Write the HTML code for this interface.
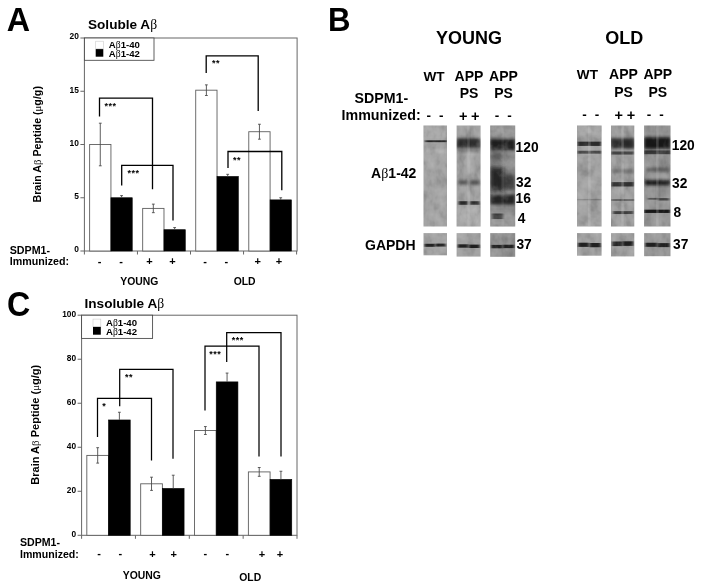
<!DOCTYPE html>
<html><head><meta charset="utf-8"><title>Figure</title>
<style>html,body{margin:0;padding:0;background:#fff;}svg{display:block;filter:blur(0.35px);}</style>
</head><body>
<svg width="701" height="586" viewBox="0 0 701 586" font-family='"Liberation Sans", Arial, sans-serif'>
<rect width="701" height="586" fill="#fff"/>
<text x="0" y="0" font-size="33.5" text-anchor="start" font-weight="bold" fill="#000" transform="translate(6.8 30.5) scale(0.965 1.01)">A</text>
<text x="0" y="0" font-size="33.5" text-anchor="start" font-weight="bold" fill="#000" transform="translate(327.9 30.5) scale(0.93 1.01)">B</text>
<text x="0" y="0" font-size="35.8" text-anchor="start" font-weight="bold" fill="#000" transform="translate(7.1 316.2) scale(0.9 1.0)">C</text>
<rect x="84.40" y="38.00" width="212.70" height="213.00" fill="none" stroke="#666" stroke-width="1" />
<line x1="80.4" y1="251.0" x2="84.4" y2="251.0" stroke="#666" stroke-width="1" />
<text x="78.9" y="252.3" font-size="8.4" text-anchor="end" font-weight="bold" fill="#000" >0</text>
<line x1="80.4" y1="197.75" x2="84.4" y2="197.75" stroke="#666" stroke-width="1" />
<text x="78.9" y="199.05" font-size="8.4" text-anchor="end" font-weight="bold" fill="#000" >5</text>
<line x1="80.4" y1="144.5" x2="84.4" y2="144.5" stroke="#666" stroke-width="1" />
<text x="78.9" y="145.8" font-size="8.4" text-anchor="end" font-weight="bold" fill="#000" >10</text>
<line x1="80.4" y1="91.25" x2="84.4" y2="91.25" stroke="#666" stroke-width="1" />
<text x="78.9" y="92.55" font-size="8.4" text-anchor="end" font-weight="bold" fill="#000" >15</text>
<line x1="80.4" y1="38.0" x2="84.4" y2="38.0" stroke="#666" stroke-width="1" />
<text x="78.9" y="39.3" font-size="8.4" text-anchor="end" font-weight="bold" fill="#000" >20</text>
<line x1="84.4" y1="251.0" x2="84.4" y2="254.5" stroke="#666" stroke-width="1" />
<line x1="137.45000000000002" y1="251.0" x2="137.45000000000002" y2="254.5" stroke="#666" stroke-width="1" />
<line x1="190.5" y1="251.0" x2="190.5" y2="254.5" stroke="#666" stroke-width="1" />
<line x1="243.55" y1="251.0" x2="243.55" y2="254.5" stroke="#666" stroke-width="1" />
<line x1="296.6" y1="251.0" x2="296.6" y2="254.5" stroke="#666" stroke-width="1" />
<rect x="89.63" y="144.50" width="21.30" height="106.50" fill="#fff" stroke="#5e5e5e" stroke-width="0.9" />
<line x1="100.27500000000002" y1="123.19999999999999" x2="100.27500000000002" y2="165.8" stroke="#4c4c4c" stroke-width="0.9" />
<line x1="98.87500000000001" y1="123.19999999999999" x2="101.67500000000003" y2="123.19999999999999" stroke="#4c4c4c" stroke-width="0.9" />
<line x1="98.87500000000001" y1="165.8" x2="101.67500000000003" y2="165.8" stroke="#4c4c4c" stroke-width="0.9" />
<rect x="110.93" y="197.75" width="21.30" height="53.25" fill="#000" stroke="#000" stroke-width="0.6" />
<line x1="121.57500000000002" y1="195.62" x2="121.57500000000002" y2="197.75" stroke="#4c4c4c" stroke-width="0.9" />
<line x1="120.17500000000001" y1="195.62" x2="122.97500000000002" y2="195.62" stroke="#4c4c4c" stroke-width="0.9" />
<rect x="142.68" y="208.40" width="21.30" height="42.60" fill="#fff" stroke="#5e5e5e" stroke-width="0.9" />
<line x1="153.32500000000002" y1="204.14" x2="153.32500000000002" y2="212.66" stroke="#4c4c4c" stroke-width="0.9" />
<line x1="151.925" y1="204.14" x2="154.72500000000002" y2="204.14" stroke="#4c4c4c" stroke-width="0.9" />
<line x1="151.925" y1="212.66" x2="154.72500000000002" y2="212.66" stroke="#4c4c4c" stroke-width="0.9" />
<rect x="163.98" y="229.70" width="21.30" height="21.30" fill="#000" stroke="#000" stroke-width="0.6" />
<line x1="174.62500000000003" y1="227.57" x2="174.62500000000003" y2="229.7" stroke="#4c4c4c" stroke-width="0.9" />
<line x1="173.22500000000002" y1="227.57" x2="176.02500000000003" y2="227.57" stroke="#4c4c4c" stroke-width="0.9" />
<rect x="195.72" y="90.19" width="21.30" height="160.81" fill="#fff" stroke="#5e5e5e" stroke-width="0.9" />
<line x1="206.375" y1="84.85999999999999" x2="206.375" y2="95.50999999999999" stroke="#4c4c4c" stroke-width="0.9" />
<line x1="204.975" y1="84.85999999999999" x2="207.775" y2="84.85999999999999" stroke="#4c4c4c" stroke-width="0.9" />
<line x1="204.975" y1="95.50999999999999" x2="207.775" y2="95.50999999999999" stroke="#4c4c4c" stroke-width="0.9" />
<rect x="217.03" y="176.45" width="21.30" height="74.55" fill="#000" stroke="#000" stroke-width="0.6" />
<line x1="227.675" y1="174.32" x2="227.675" y2="176.45" stroke="#4c4c4c" stroke-width="0.9" />
<line x1="226.275" y1="174.32" x2="229.07500000000002" y2="174.32" stroke="#4c4c4c" stroke-width="0.9" />
<rect x="248.78" y="131.72" width="21.30" height="119.28" fill="#fff" stroke="#5e5e5e" stroke-width="0.9" />
<line x1="259.425" y1="124.26500000000001" x2="259.425" y2="139.175" stroke="#4c4c4c" stroke-width="0.9" />
<line x1="258.02500000000003" y1="124.26500000000001" x2="260.825" y2="124.26500000000001" stroke="#4c4c4c" stroke-width="0.9" />
<line x1="258.02500000000003" y1="139.175" x2="260.825" y2="139.175" stroke="#4c4c4c" stroke-width="0.9" />
<rect x="270.08" y="199.88" width="21.30" height="51.12" fill="#000" stroke="#000" stroke-width="0.6" />
<line x1="280.725" y1="197.75" x2="280.725" y2="199.88" stroke="#4c4c4c" stroke-width="0.9" />
<line x1="279.32500000000005" y1="197.75" x2="282.125" y2="197.75" stroke="#4c4c4c" stroke-width="0.9" />
<rect x="84.40" y="38.00" width="69.60" height="22.30" fill="#fff" stroke="#444" stroke-width="0.85" />
<rect x="95.70" y="41.20" width="7.60" height="7.60" fill="#fff" stroke="#ccc" stroke-width="0.6" />
<rect x="95.70" y="49.10" width="7.60" height="7.60" fill="#000" stroke="none" stroke-width="1" />
<text x="108.8" y="47.6" font-size="9.6" text-anchor="start" font-weight="bold" fill="#000" >A<tspan font-family='"Liberation Serif", "DejaVu Serif", serif' font-weight="normal">β</tspan>1-40</text>
<text x="108.8" y="57.4" font-size="9.6" text-anchor="start" font-weight="bold" fill="#000" >A<tspan font-family='"Liberation Serif", "DejaVu Serif", serif' font-weight="normal">β</tspan>1-42</text>
<path d="M99.5 116.6 V98.2 H152.5 V189.2" fill="none" stroke="#000" stroke-width="1.3" stroke-linejoin="miter"/>
<text x="104.4" y="108.6" font-size="9" text-anchor="start" font-weight="bold" fill="#000" letter-spacing="0.5">***</text>
<path d="M121.7 185.6 V165.3 H173 V220.6" fill="none" stroke="#000" stroke-width="1.3" stroke-linejoin="miter"/>
<text x="127.5" y="176" font-size="9" text-anchor="start" font-weight="bold" fill="#000" letter-spacing="0.5">***</text>
<path d="M206.2 73 V55.9 H258.2 V111" fill="none" stroke="#000" stroke-width="1.3" stroke-linejoin="miter"/>
<text x="212" y="66" font-size="9" text-anchor="start" font-weight="bold" fill="#000" letter-spacing="0.5">**</text>
<path d="M228 168 V151.5 H281.8 V190.2" fill="none" stroke="#000" stroke-width="1.3" stroke-linejoin="miter"/>
<text x="233" y="162.8" font-size="9" text-anchor="start" font-weight="bold" fill="#000" letter-spacing="0.5">**</text>
<text x="88" y="29.0" font-size="13.6" text-anchor="start" font-weight="bold" fill="#000" >Soluble A<tspan font-family='"Liberation Serif", "DejaVu Serif", serif' font-weight="normal">β</tspan></text>
<text x="0" y="0" font-size="10.7" text-anchor="middle" font-weight="bold" fill="#000" transform="translate(40.8 144.3) rotate(-90)">Brain A<tspan font-family='"Liberation Serif", "DejaVu Serif", serif' font-weight="normal">β</tspan> Peptide (<tspan font-family='"Liberation Serif", "DejaVu Serif", serif' font-weight="normal">μ</tspan>g/g)</text>
<text x="9.7" y="254.2" font-size="10.7" text-anchor="start" font-weight="bold" fill="#000" >SDPM1-</text>
<text x="9.7" y="265" font-size="10.7" text-anchor="start" font-weight="bold" fill="#000" >Immunized:</text>
<text x="99.5" y="264.5" font-size="11" text-anchor="middle" font-weight="bold" fill="#000" >-</text>
<text x="121" y="264.5" font-size="11" text-anchor="middle" font-weight="bold" fill="#000" >-</text>
<text x="149.5" y="265.4" font-size="11" text-anchor="middle" font-weight="bold" fill="#000" >+</text>
<text x="172.5" y="265.4" font-size="11" text-anchor="middle" font-weight="bold" fill="#000" >+</text>
<text x="205" y="264.5" font-size="11" text-anchor="middle" font-weight="bold" fill="#000" >-</text>
<text x="226.3" y="264.5" font-size="11" text-anchor="middle" font-weight="bold" fill="#000" >-</text>
<text x="257.6" y="265.4" font-size="11" text-anchor="middle" font-weight="bold" fill="#000" >+</text>
<text x="279" y="265.4" font-size="11" text-anchor="middle" font-weight="bold" fill="#000" >+</text>
<text x="139.3" y="285" font-size="10.4" text-anchor="middle" font-weight="bold" fill="#000" >YOUNG</text>
<text x="244.6" y="285" font-size="10.4" text-anchor="middle" font-weight="bold" fill="#000" >OLD</text>
<rect x="81.60" y="315.20" width="215.40" height="220.10" fill="none" stroke="#666" stroke-width="1" />
<line x1="77.6" y1="535.3" x2="81.6" y2="535.3" stroke="#666" stroke-width="1" />
<text x="76.1" y="537.1999999999999" font-size="8.3" text-anchor="end" font-weight="bold" fill="#000" >0</text>
<line x1="77.6" y1="491.28" x2="81.6" y2="491.28" stroke="#666" stroke-width="1" />
<text x="76.1" y="493.17999999999995" font-size="8.3" text-anchor="end" font-weight="bold" fill="#000" >20</text>
<line x1="77.6" y1="447.26" x2="81.6" y2="447.26" stroke="#666" stroke-width="1" />
<text x="76.1" y="449.15999999999997" font-size="8.3" text-anchor="end" font-weight="bold" fill="#000" >40</text>
<line x1="77.6" y1="403.24" x2="81.6" y2="403.24" stroke="#666" stroke-width="1" />
<text x="76.1" y="405.14" font-size="8.3" text-anchor="end" font-weight="bold" fill="#000" >60</text>
<line x1="77.6" y1="359.21999999999997" x2="81.6" y2="359.21999999999997" stroke="#666" stroke-width="1" />
<text x="76.1" y="361.11999999999995" font-size="8.3" text-anchor="end" font-weight="bold" fill="#000" >80</text>
<line x1="77.6" y1="315.2" x2="81.6" y2="315.2" stroke="#666" stroke-width="1" />
<text x="76.1" y="317.09999999999997" font-size="8.3" text-anchor="end" font-weight="bold" fill="#000" >100</text>
<line x1="81.6" y1="535.3" x2="81.6" y2="538.8" stroke="#666" stroke-width="1" />
<line x1="135.45" y1="535.3" x2="135.45" y2="538.8" stroke="#666" stroke-width="1" />
<line x1="189.3" y1="535.3" x2="189.3" y2="538.8" stroke="#666" stroke-width="1" />
<line x1="243.15" y1="535.3" x2="243.15" y2="538.8" stroke="#666" stroke-width="1" />
<line x1="297.0" y1="535.3" x2="297.0" y2="538.8" stroke="#666" stroke-width="1" />
<rect x="86.82" y="455.40" width="21.70" height="79.90" fill="#fff" stroke="#5e5e5e" stroke-width="0.9" />
<line x1="97.67499999999998" y1="447.7002" x2="97.67499999999998" y2="463.1072" stroke="#4c4c4c" stroke-width="0.9" />
<line x1="96.27499999999998" y1="447.7002" x2="99.07499999999999" y2="447.7002" stroke="#4c4c4c" stroke-width="0.9" />
<line x1="96.27499999999998" y1="463.1072" x2="99.07499999999999" y2="463.1072" stroke="#4c4c4c" stroke-width="0.9" />
<rect x="108.52" y="419.97" width="21.70" height="115.33" fill="#000" stroke="#000" stroke-width="0.6" />
<line x1="119.37499999999999" y1="412.2641" x2="119.37499999999999" y2="419.96759999999995" stroke="#4c4c4c" stroke-width="0.9" />
<line x1="117.97499999999998" y1="412.2641" x2="120.77499999999999" y2="412.2641" stroke="#4c4c4c" stroke-width="0.9" />
<rect x="140.68" y="483.80" width="21.70" height="51.50" fill="#fff" stroke="#5e5e5e" stroke-width="0.9" />
<line x1="151.525" y1="477.19359999999995" x2="151.525" y2="490.39959999999996" stroke="#4c4c4c" stroke-width="0.9" />
<line x1="150.125" y1="477.19359999999995" x2="152.925" y2="477.19359999999995" stroke="#4c4c4c" stroke-width="0.9" />
<line x1="150.125" y1="490.39959999999996" x2="152.925" y2="490.39959999999996" stroke="#4c4c4c" stroke-width="0.9" />
<rect x="162.38" y="488.42" width="21.70" height="46.88" fill="#000" stroke="#000" stroke-width="0.6" />
<line x1="173.225" y1="475.2127" x2="173.225" y2="488.41869999999994" stroke="#4c4c4c" stroke-width="0.9" />
<line x1="171.825" y1="475.2127" x2="174.625" y2="475.2127" stroke="#4c4c4c" stroke-width="0.9" />
<rect x="194.53" y="430.53" width="21.70" height="104.77" fill="#fff" stroke="#5e5e5e" stroke-width="0.9" />
<line x1="205.375" y1="426.57059999999996" x2="205.375" y2="434.4942" stroke="#4c4c4c" stroke-width="0.9" />
<line x1="203.975" y1="426.57059999999996" x2="206.775" y2="426.57059999999996" stroke="#4c4c4c" stroke-width="0.9" />
<line x1="203.975" y1="434.4942" x2="206.775" y2="434.4942" stroke="#4c4c4c" stroke-width="0.9" />
<rect x="216.22" y="381.89" width="21.70" height="153.41" fill="#000" stroke="#000" stroke-width="0.6" />
<line x1="227.075" y1="373.08629999999994" x2="227.075" y2="381.89029999999997" stroke="#4c4c4c" stroke-width="0.9" />
<line x1="225.67499999999998" y1="373.08629999999994" x2="228.475" y2="373.08629999999994" stroke="#4c4c4c" stroke-width="0.9" />
<rect x="248.38" y="471.91" width="21.70" height="63.39" fill="#fff" stroke="#5e5e5e" stroke-width="0.9" />
<line x1="259.225" y1="467.50919999999996" x2="259.225" y2="476.31319999999994" stroke="#4c4c4c" stroke-width="0.9" />
<line x1="257.82500000000005" y1="467.50919999999996" x2="260.625" y2="467.50919999999996" stroke="#4c4c4c" stroke-width="0.9" />
<line x1="257.82500000000005" y1="476.31319999999994" x2="260.625" y2="476.31319999999994" stroke="#4c4c4c" stroke-width="0.9" />
<rect x="270.07" y="479.39" width="21.70" height="55.91" fill="#000" stroke="#000" stroke-width="0.6" />
<line x1="280.925" y1="471.2509" x2="280.925" y2="479.39459999999997" stroke="#4c4c4c" stroke-width="0.9" />
<line x1="279.52500000000003" y1="471.2509" x2="282.325" y2="471.2509" stroke="#4c4c4c" stroke-width="0.9" />
<rect x="81.60" y="315.20" width="71.00" height="23.20" fill="#fff" stroke="#444" stroke-width="0.85" />
<rect x="93.00" y="319.10" width="7.80" height="7.80" fill="#fff" stroke="#ccc" stroke-width="0.6" />
<rect x="93.00" y="326.90" width="7.80" height="7.80" fill="#000" stroke="none" stroke-width="1" />
<text x="106" y="325.7" font-size="9.6" text-anchor="start" font-weight="bold" fill="#000" >A<tspan font-family='"Liberation Serif", "DejaVu Serif", serif' font-weight="normal">β</tspan>1-40</text>
<text x="106" y="335" font-size="9.6" text-anchor="start" font-weight="bold" fill="#000" >A<tspan font-family='"Liberation Serif", "DejaVu Serif", serif' font-weight="normal">β</tspan>1-42</text>
<path d="M97.5 437 V398.3 H151.5 V460.5" fill="none" stroke="#000" stroke-width="1.25" stroke-linejoin="miter"/>
<text x="102.3" y="409.3" font-size="9" text-anchor="start" font-weight="bold" fill="#000" letter-spacing="0.5">*</text>
<path d="M119.7 406.2 V369.3 H173 V458.7" fill="none" stroke="#000" stroke-width="1.25" stroke-linejoin="miter"/>
<text x="125" y="380" font-size="9" text-anchor="start" font-weight="bold" fill="#000" letter-spacing="0.5">**</text>
<path d="M205 410.5 V346 H259 V456.6" fill="none" stroke="#000" stroke-width="1.25" stroke-linejoin="miter"/>
<text x="209.3" y="357" font-size="9" text-anchor="start" font-weight="bold" fill="#000" letter-spacing="0.5">***</text>
<path d="M226.7 362 V332.5 H281 V456.6" fill="none" stroke="#000" stroke-width="1.25" stroke-linejoin="miter"/>
<text x="231.8" y="342.5" font-size="9" text-anchor="start" font-weight="bold" fill="#000" letter-spacing="0.5">***</text>
<text x="84.5" y="307.9" font-size="13.6" text-anchor="start" font-weight="bold" fill="#000" >Insoluble A<tspan font-family='"Liberation Serif", "DejaVu Serif", serif' font-weight="normal">β</tspan></text>
<text x="0" y="0" font-size="11.0" text-anchor="middle" font-weight="bold" fill="#000" transform="translate(38.5 424.7) rotate(-90)">Brain A<tspan font-family='"Liberation Serif", "DejaVu Serif", serif' font-weight="normal">β</tspan> Peptide (<tspan font-family='"Liberation Serif", "DejaVu Serif", serif' font-weight="normal">μ</tspan>g/g)</text>
<text x="20" y="545.8" font-size="10.6" text-anchor="start" font-weight="bold" fill="#000" >SDPM1-</text>
<text x="20" y="557.5" font-size="10.6" text-anchor="start" font-weight="bold" fill="#000" >Immunized:</text>
<text x="99" y="556.6" font-size="11" text-anchor="middle" font-weight="bold" fill="#000" >-</text>
<text x="120.4" y="556.6" font-size="11" text-anchor="middle" font-weight="bold" fill="#000" >-</text>
<text x="152.5" y="557.5" font-size="11" text-anchor="middle" font-weight="bold" fill="#000" >+</text>
<text x="173.6" y="557.5" font-size="11" text-anchor="middle" font-weight="bold" fill="#000" >+</text>
<text x="205.4" y="556.6" font-size="11" text-anchor="middle" font-weight="bold" fill="#000" >-</text>
<text x="227.3" y="556.6" font-size="11" text-anchor="middle" font-weight="bold" fill="#000" >-</text>
<text x="262" y="557.5" font-size="11" text-anchor="middle" font-weight="bold" fill="#000" >+</text>
<text x="280" y="557.5" font-size="11" text-anchor="middle" font-weight="bold" fill="#000" >+</text>
<text x="141.8" y="578.6" font-size="10.4" text-anchor="middle" font-weight="bold" fill="#000" >YOUNG</text>
<text x="250.2" y="580.5" font-size="10.4" text-anchor="middle" font-weight="bold" fill="#000" >OLD</text>
<text x="0" y="0" font-size="18" text-anchor="middle" font-weight="bold" fill="#000" transform="translate(469 44.1) scale(1 1.065)">YOUNG</text>
<text x="0" y="0" font-size="18" text-anchor="middle" font-weight="bold" fill="#000" transform="translate(624.3 44.2) scale(1 1.07)">OLD</text>
<text x="434" y="80.7" font-size="13.6" text-anchor="middle" font-weight="bold" fill="#000" >WT</text>
<text x="469" y="80.7" font-size="14" text-anchor="middle" font-weight="bold" fill="#000" >APP</text>
<text x="469" y="98.3" font-size="14" text-anchor="middle" font-weight="bold" fill="#000" >PS</text>
<text x="503.5" y="80.7" font-size="14" text-anchor="middle" font-weight="bold" fill="#000" >APP</text>
<text x="503.5" y="98.3" font-size="14" text-anchor="middle" font-weight="bold" fill="#000" >PS</text>
<text x="587.4" y="79.3" font-size="13.6" text-anchor="middle" font-weight="bold" fill="#000" >WT</text>
<text x="623.5" y="79.3" font-size="14" text-anchor="middle" font-weight="bold" fill="#000" >APP</text>
<text x="623.5" y="96.89999999999999" font-size="14" text-anchor="middle" font-weight="bold" fill="#000" >PS</text>
<text x="657.8" y="79.3" font-size="14" text-anchor="middle" font-weight="bold" fill="#000" >APP</text>
<text x="657.8" y="96.89999999999999" font-size="14" text-anchor="middle" font-weight="bold" fill="#000" >PS</text>
<text x="354.6" y="102.6" font-size="14.2" text-anchor="start" font-weight="bold" fill="#000" >SDPM1-</text>
<text x="341.5" y="120.4" font-size="14.25" text-anchor="start" font-weight="bold" fill="#000" >Immunized:</text>
<text x="428.7" y="120.3" font-size="13.5" text-anchor="middle" font-weight="bold" fill="#000" >-</text>
<text x="441.3" y="120.3" font-size="13.5" text-anchor="middle" font-weight="bold" fill="#000" >-</text>
<text x="463.2" y="121" font-size="14.5" text-anchor="middle" font-weight="bold" fill="#000" >+</text>
<text x="475.2" y="121" font-size="14.5" text-anchor="middle" font-weight="bold" fill="#000" >+</text>
<text x="496.9" y="120.3" font-size="13.5" text-anchor="middle" font-weight="bold" fill="#000" >-</text>
<text x="509.6" y="120.3" font-size="13.5" text-anchor="middle" font-weight="bold" fill="#000" >-</text>
<text x="584.4" y="119.0" font-size="13.5" text-anchor="middle" font-weight="bold" fill="#000" >-</text>
<text x="597" y="119.0" font-size="13.5" text-anchor="middle" font-weight="bold" fill="#000" >-</text>
<text x="618.7" y="119.7" font-size="14.5" text-anchor="middle" font-weight="bold" fill="#000" >+</text>
<text x="631" y="119.7" font-size="14.5" text-anchor="middle" font-weight="bold" fill="#000" >+</text>
<text x="649" y="119.0" font-size="13.5" text-anchor="middle" font-weight="bold" fill="#000" >-</text>
<text x="661.6" y="119.0" font-size="13.5" text-anchor="middle" font-weight="bold" fill="#000" >-</text>
<text x="371.1" y="177.9" font-size="14" text-anchor="start" font-weight="bold" fill="#000" >A<tspan font-family='"Liberation Serif", "DejaVu Serif", serif' font-weight="normal">β</tspan>1-42</text>
<text x="365" y="249.9" font-size="14" text-anchor="start" font-weight="bold" fill="#000" >GAPDH</text>
<text x="515.6" y="152.1" font-size="14.2" text-anchor="start" font-weight="bold" fill="#000" transform-origin="515.6 152.1" transform="scale(0.97 1.03)">120</text>
<text x="516.0" y="187.0" font-size="14.2" text-anchor="start" font-weight="bold" fill="#000" transform-origin="516.0 187.0" transform="scale(0.97 1.03)">32</text>
<text x="515.6" y="203.5" font-size="14.2" text-anchor="start" font-weight="bold" fill="#000" transform-origin="515.6 203.5" transform="scale(0.97 1.03)">16</text>
<text x="517.8" y="223.2" font-size="14.2" text-anchor="start" font-weight="bold" fill="#000" transform-origin="517.8 223.2" transform="scale(0.97 1.03)">4</text>
<text x="516.4" y="249.2" font-size="14.2" text-anchor="start" font-weight="bold" fill="#000" transform-origin="516.4 249.2" transform="scale(0.97 1.03)">37</text>
<text x="671.8" y="150.5" font-size="14.2" text-anchor="start" font-weight="bold" fill="#000" transform-origin="671.8 150.5" transform="scale(0.97 1.03)">120</text>
<text x="672" y="188.0" font-size="14.2" text-anchor="start" font-weight="bold" fill="#000" transform-origin="672 188.0" transform="scale(0.97 1.03)">32</text>
<text x="673.4" y="217.3" font-size="14.2" text-anchor="start" font-weight="bold" fill="#000" transform-origin="673.4 217.3" transform="scale(0.97 1.03)">8</text>
<text x="673.0" y="249.1" font-size="14.2" text-anchor="start" font-weight="bold" fill="#000" transform-origin="673.0 249.1" transform="scale(0.97 1.03)">37</text>
<defs>
<filter id="b0" x="-20%" y="-100%" width="140%" height="300%"><feGaussianBlur stdDeviation="0.8 0.45"/></filter>
<filter id="b1" x="-20%" y="-100%" width="140%" height="300%"><feGaussianBlur stdDeviation="1.0 0.75"/></filter>
<filter id="b2" x="-20%" y="-60%" width="140%" height="220%"><feGaussianBlur stdDeviation="1.4 1.5"/></filter>
<filter id="b3" x="-30%" y="-60%" width="160%" height="220%"><feGaussianBlur stdDeviation="2 2.8"/></filter>
<filter id="nz0" x="0" y="0" width="100%" height="100%" color-interpolation-filters="sRGB"><feTurbulence type="fractalNoise" baseFrequency="0.11 0.08" numOctaves="3" seed="3" result="t"/><feColorMatrix in="t" type="matrix" values="0 0 0 0 0  0 0 0 0 0  0 0 0 0 0  0.4 0 0 0 -0.2" result="d"/><feColorMatrix in="t" type="matrix" values="0 0 0 0 1  0 0 0 0 1  0 0 0 0 1  -0.4 0 0 0 0.2" result="l"/><feMerge><feMergeNode in="d"/><feMergeNode in="l"/></feMerge></filter>
<filter id="nz1" x="0" y="0" width="100%" height="100%" color-interpolation-filters="sRGB"><feTurbulence type="fractalNoise" baseFrequency="0.12 0.07" numOctaves="3" seed="11" result="t"/><feColorMatrix in="t" type="matrix" values="0 0 0 0 0  0 0 0 0 0  0 0 0 0 0  0.4 0 0 0 -0.2" result="d"/><feColorMatrix in="t" type="matrix" values="0 0 0 0 1  0 0 0 0 1  0 0 0 0 1  -0.4 0 0 0 0.2" result="l"/><feMerge><feMergeNode in="d"/><feMergeNode in="l"/></feMerge></filter>
<filter id="nz2" x="0" y="0" width="100%" height="100%" color-interpolation-filters="sRGB"><feTurbulence type="fractalNoise" baseFrequency="0.10 0.09" numOctaves="3" seed="23" result="t"/><feColorMatrix in="t" type="matrix" values="0 0 0 0 0  0 0 0 0 0  0 0 0 0 0  0.4 0 0 0 -0.2" result="d"/><feColorMatrix in="t" type="matrix" values="0 0 0 0 1  0 0 0 0 1  0 0 0 0 1  -0.4 0 0 0 0.2" result="l"/><feMerge><feMergeNode in="d"/><feMergeNode in="l"/></feMerge></filter>
<filter id="nz3" x="0" y="0" width="100%" height="100%" color-interpolation-filters="sRGB"><feTurbulence type="fractalNoise" baseFrequency="0.09 0.09" numOctaves="3" seed="5" result="t"/><feColorMatrix in="t" type="matrix" values="0 0 0 0 0  0 0 0 0 0  0 0 0 0 0  0.4 0 0 0 -0.2" result="d"/><feColorMatrix in="t" type="matrix" values="0 0 0 0 1  0 0 0 0 1  0 0 0 0 1  -0.4 0 0 0 0.2" result="l"/><feMerge><feMergeNode in="d"/><feMergeNode in="l"/></feMerge></filter>
<filter id="nz4" x="0" y="0" width="100%" height="100%" color-interpolation-filters="sRGB"><feTurbulence type="fractalNoise" baseFrequency="0.12 0.08" numOctaves="3" seed="17" result="t"/><feColorMatrix in="t" type="matrix" values="0 0 0 0 0  0 0 0 0 0  0 0 0 0 0  0.4 0 0 0 -0.2" result="d"/><feColorMatrix in="t" type="matrix" values="0 0 0 0 1  0 0 0 0 1  0 0 0 0 1  -0.4 0 0 0 0.2" result="l"/><feMerge><feMergeNode in="d"/><feMergeNode in="l"/></feMerge></filter>
<filter id="nz5" x="0" y="0" width="100%" height="100%" color-interpolation-filters="sRGB"><feTurbulence type="fractalNoise" baseFrequency="0.11 0.07" numOctaves="3" seed="29" result="t"/><feColorMatrix in="t" type="matrix" values="0 0 0 0 0  0 0 0 0 0  0 0 0 0 0  0.4 0 0 0 -0.2" result="d"/><feColorMatrix in="t" type="matrix" values="0 0 0 0 1  0 0 0 0 1  0 0 0 0 1  -0.4 0 0 0 0.2" result="l"/><feMerge><feMergeNode in="d"/><feMergeNode in="l"/></feMerge></filter>
</defs>
<clipPath id="c0"><rect x="423.5" y="125.5" width="23.50" height="101.0"/></clipPath>
<clipPath id="g0"><rect x="423.5" y="233.1" width="23.50" height="22.20"/></clipPath>
<rect x="423.50" y="125.50" width="23.50" height="101.00" fill="#a3a3a3" stroke="none" stroke-width="1" />
<g clip-path="url(#c0)">
<rect x="423.50" y="127.00" width="23.50" height="12" fill="#b2b2b2" opacity="0.5" filter="url(#b3)"/>
<rect x="425.14" y="140.25" width="21.62" height="1.9" fill="#181818" opacity="0.85" filter="url(#b0)"/>
<rect x="425.85" y="149.75" width="19.97" height="2.5" fill="#bdbdbd" opacity="0.7" filter="url(#b2)"/>
<rect x="423.5" y="125.5" width="23.50" height="101.0" filter="url(#nz0)"/>
</g>
<rect x="423.50" y="233.10" width="23.50" height="22.20" fill="#a3a3a3" stroke="none" stroke-width="1" />
<g clip-path="url(#g0)">
<rect x="424.70" y="243.80" width="10.15" height="3.0" fill="#1c1c1c" opacity="0.95" filter="url(#b1)"/>
<rect x="435.55" y="243.60" width="10.35" height="3.0" fill="#1c1c1c" opacity="0.95" filter="url(#b1)"/>
<rect x="423.5" y="233.1" width="23.50" height="22.20" filter="url(#nz2)"/>
</g>
<clipPath id="c1"><rect x="456.6" y="125.5" width="24.00" height="101.0"/></clipPath>
<clipPath id="g1"><rect x="456.6" y="233.1" width="24.00" height="23.50"/></clipPath>
<rect x="456.60" y="125.50" width="24.00" height="101.00" fill="#a2a2a2" stroke="none" stroke-width="1" />
<g clip-path="url(#c1)">
<rect x="456.60" y="138.40" width="24.00" height="9.6" fill="#2a2a2a" opacity="0.96" filter="url(#b2)"/>
<rect x="457.80" y="148.80" width="21.60" height="3" fill="#4a4a4a" opacity="0.55" filter="url(#b2)"/>
<rect x="466.20" y="155.00" width="5.28" height="26" fill="#b4b4b4" opacity="0.5" filter="url(#b3)"/>
<rect x="458.04" y="180.50" width="9.60" height="4" fill="#4c4c4c" opacity="0.85" filter="url(#b2)"/>
<rect x="470.04" y="180.30" width="9.60" height="4.4" fill="#444" opacity="0.85" filter="url(#b2)"/>
<rect x="458.76" y="201.20" width="8.88" height="3.6" fill="#262626" opacity="0.95" filter="url(#b1)"/>
<rect x="470.28" y="201.20" width="9.12" height="3.6" fill="#2c2c2c" opacity="0.95" filter="url(#b1)"/>
<rect x="456.60" y="208.00" width="24.00" height="16" fill="#b6b6b6" opacity="0.5" filter="url(#b3)"/>
<rect x="467.90" y="125.5" width="1.4" height="101.0" fill="#d0d0d0" opacity="0.45" filter="url(#b0)"/>
<rect x="456.6" y="125.5" width="24.00" height="101.0" filter="url(#nz1)"/>
</g>
<rect x="456.60" y="233.10" width="24.00" height="23.50" fill="#a2a2a2" stroke="none" stroke-width="1" />
<g clip-path="url(#g1)">
<rect x="457.80" y="244.30" width="10.40" height="3.4" fill="#1c1c1c" opacity="0.95" filter="url(#b1)"/>
<rect x="468.90" y="244.60" width="10.60" height="3.4" fill="#1c1c1c" opacity="0.95" filter="url(#b1)"/>
<rect x="456.6" y="233.1" width="24.00" height="23.50" filter="url(#nz3)"/>
</g>
<clipPath id="c2"><rect x="490.2" y="125.5" width="25.00" height="101.0"/></clipPath>
<clipPath id="g2"><rect x="490.2" y="233.1" width="25.00" height="23.70"/></clipPath>
<rect x="490.20" y="125.50" width="25.00" height="101.00" fill="#939393" stroke="none" stroke-width="1" />
<g clip-path="url(#c2)">
<rect x="490.20" y="125.50" width="25.00" height="9" fill="#a4a4a4" opacity="0.6" filter="url(#b3)"/>
<rect x="490.20" y="139.25" width="25.00" height="11.5" fill="#1e1e1e" opacity="0.97" filter="url(#b2)"/>
<rect x="490.20" y="151.50" width="12.50" height="9" fill="#484848" opacity="0.8" filter="url(#b3)"/>
<rect x="502.70" y="152.00" width="12.50" height="6" fill="#777" opacity="0.5" filter="url(#b3)"/>
<rect x="490.20" y="167.00" width="14.00" height="25" fill="#242424" opacity="0.95" filter="url(#b3)"/>
<rect x="502.70" y="174.50" width="12.50" height="15" fill="#303030" opacity="0.92" filter="url(#b3)"/>
<rect x="490.20" y="194.50" width="25.00" height="10" fill="#222" opacity="0.96" filter="url(#b2)"/>
<rect x="490.20" y="206.50" width="25.00" height="5" fill="#808080" opacity="0.6" filter="url(#b2)"/>
<rect x="492.20" y="213.50" width="11.00" height="5.6" fill="#333" opacity="0.92" filter="url(#b1)"/>
<rect x="490.20" y="221.00" width="25.00" height="5" fill="#a2a2a2" opacity="0.6" filter="url(#b2)"/>
<rect x="502.00" y="125.5" width="1.4" height="101.0" fill="#d0d0d0" opacity="0.2" filter="url(#b0)"/>
<rect x="490.2" y="125.5" width="25.00" height="101.0" filter="url(#nz2)"/>
</g>
<rect x="490.20" y="233.10" width="25.00" height="23.70" fill="#939393" stroke="none" stroke-width="1" />
<g clip-path="url(#g2)">
<rect x="491.40" y="244.90" width="10.90" height="3.4" fill="#1c1c1c" opacity="0.95" filter="url(#b1)"/>
<rect x="503.00" y="244.70" width="11.10" height="3.4" fill="#1c1c1c" opacity="0.95" filter="url(#b1)"/>
<rect x="490.2" y="233.1" width="25.00" height="23.70" filter="url(#nz4)"/>
</g>
<clipPath id="c3"><rect x="577.0" y="125.5" width="24.60" height="101.0"/></clipPath>
<clipPath id="g3"><rect x="577.0" y="233.1" width="24.60" height="22.60"/></clipPath>
<rect x="577.00" y="125.50" width="24.60" height="101.00" fill="#a2a2a2" stroke="none" stroke-width="1" />
<g clip-path="url(#c3)">
<rect x="577.00" y="127.00" width="24.60" height="10" fill="#b0b0b0" opacity="0.5" filter="url(#b3)"/>
<rect x="577.74" y="141.65" width="23.37" height="4.3" fill="#2a2a2a" opacity="0.95" filter="url(#b1)"/>
<rect x="577.74" y="150.75" width="23.37" height="2.9" fill="#3c3c3c" opacity="0.9" filter="url(#b1)"/>
<rect x="577.00" y="198.90" width="24.60" height="1.4" fill="#7c7c7c" opacity="0.8" filter="url(#b0)"/>
<rect x="588.60" y="125.5" width="1.4" height="101.0" fill="#d0d0d0" opacity="0.55" filter="url(#b0)"/>
<rect x="577.0" y="125.5" width="24.60" height="101.0" filter="url(#nz3)"/>
</g>
<rect x="577.00" y="233.10" width="24.60" height="22.60" fill="#a2a2a2" stroke="none" stroke-width="1" />
<g clip-path="url(#g3)">
<rect x="578.20" y="242.70" width="10.70" height="4.2" fill="#1c1c1c" opacity="0.95" filter="url(#b1)"/>
<rect x="589.60" y="243.00" width="10.90" height="4.2" fill="#1c1c1c" opacity="0.95" filter="url(#b1)"/>
<rect x="577.0" y="233.1" width="24.60" height="22.60" filter="url(#nz5)"/>
</g>
<clipPath id="c4"><rect x="611.0" y="125.5" width="23.30" height="101.0"/></clipPath>
<clipPath id="g4"><rect x="611.0" y="233.1" width="23.30" height="23.30"/></clipPath>
<rect x="611.00" y="125.50" width="23.30" height="101.00" fill="#9e9e9e" stroke="none" stroke-width="1" />
<g clip-path="url(#c4)">
<rect x="611.00" y="138.20" width="23.30" height="10.2" fill="#2a2a2a" opacity="0.96" filter="url(#b2)"/>
<rect x="611.47" y="151.45" width="22.37" height="3.1" fill="#3a3a3a" opacity="0.9" filter="url(#b1)"/>
<rect x="613.33" y="169.00" width="19.80" height="4" fill="#666" opacity="0.8" filter="url(#b2)"/>
<rect x="611.70" y="182.15" width="21.90" height="4.3" fill="#303030" opacity="0.95" filter="url(#b1)"/>
<rect x="611.00" y="199.20" width="23.30" height="1.6" fill="#4c4c4c" opacity="0.85" filter="url(#b0)"/>
<rect x="612.86" y="211.15" width="20.27" height="2.9" fill="#383838" opacity="0.9" filter="url(#b1)"/>
<rect x="621.95" y="125.5" width="1.4" height="101.0" fill="#d0d0d0" opacity="0.55" filter="url(#b0)"/>
<rect x="611.0" y="125.5" width="23.30" height="101.0" filter="url(#nz4)"/>
</g>
<rect x="611.00" y="233.10" width="23.30" height="23.30" fill="#9e9e9e" stroke="none" stroke-width="1" />
<g clip-path="url(#g4)">
<rect x="612.20" y="241.50" width="10.05" height="4.6" fill="#1c1c1c" opacity="0.95" filter="url(#b1)"/>
<rect x="622.95" y="241.30" width="10.25" height="4.6" fill="#1c1c1c" opacity="0.95" filter="url(#b1)"/>
<rect x="611.0" y="233.1" width="23.30" height="23.30" filter="url(#nz0)"/>
</g>
<clipPath id="c5"><rect x="644.1" y="125.5" width="26.40" height="101.0"/></clipPath>
<clipPath id="g5"><rect x="644.1" y="233.1" width="26.40" height="23.10"/></clipPath>
<rect x="644.10" y="125.50" width="26.40" height="101.00" fill="#979797" stroke="none" stroke-width="1" />
<g clip-path="url(#c5)">
<rect x="644.10" y="127.00" width="26.40" height="8" fill="#8a8a8a" opacity="0.6" filter="url(#b3)"/>
<rect x="644.10" y="137.20" width="26.40" height="11.6" fill="#181818" opacity="0.98" filter="url(#b2)"/>
<rect x="644.10" y="150.40" width="26.40" height="3.8" fill="#2e2e2e" opacity="0.9" filter="url(#b1)"/>
<rect x="644.10" y="156.00" width="26.40" height="8" fill="#8a8a8a" opacity="0.5" filter="url(#b3)"/>
<rect x="646.74" y="167.45" width="22.44" height="4.5" fill="#555" opacity="0.85" filter="url(#b2)"/>
<rect x="644.89" y="180.00" width="25.08" height="5.4" fill="#161616" opacity="0.97" filter="url(#b2)"/>
<rect x="648.06" y="197.90" width="10.56" height="1.8" fill="#464646" opacity="0.85" filter="url(#b0)"/>
<rect x="658.62" y="198.10" width="10.56" height="2.4" fill="#3a3a3a" opacity="0.9" filter="url(#b0)"/>
<rect x="644.10" y="209.65" width="25.87" height="3.3" fill="#141414" opacity="0.97" filter="url(#b1)"/>
<rect x="656.60" y="125.5" width="1.4" height="101.0" fill="#d0d0d0" opacity="0.5" filter="url(#b0)"/>
<rect x="644.1" y="125.5" width="26.40" height="101.0" filter="url(#nz5)"/>
</g>
<rect x="644.10" y="233.10" width="26.40" height="23.10" fill="#979797" stroke="none" stroke-width="1" />
<g clip-path="url(#g5)">
<rect x="645.30" y="242.80" width="11.60" height="4.0" fill="#1c1c1c" opacity="0.95" filter="url(#b1)"/>
<rect x="657.60" y="243.10" width="11.80" height="4.0" fill="#1c1c1c" opacity="0.95" filter="url(#b1)"/>
<rect x="644.1" y="233.1" width="26.40" height="23.10" filter="url(#nz1)"/>
</g>
</svg>
</body></html>
